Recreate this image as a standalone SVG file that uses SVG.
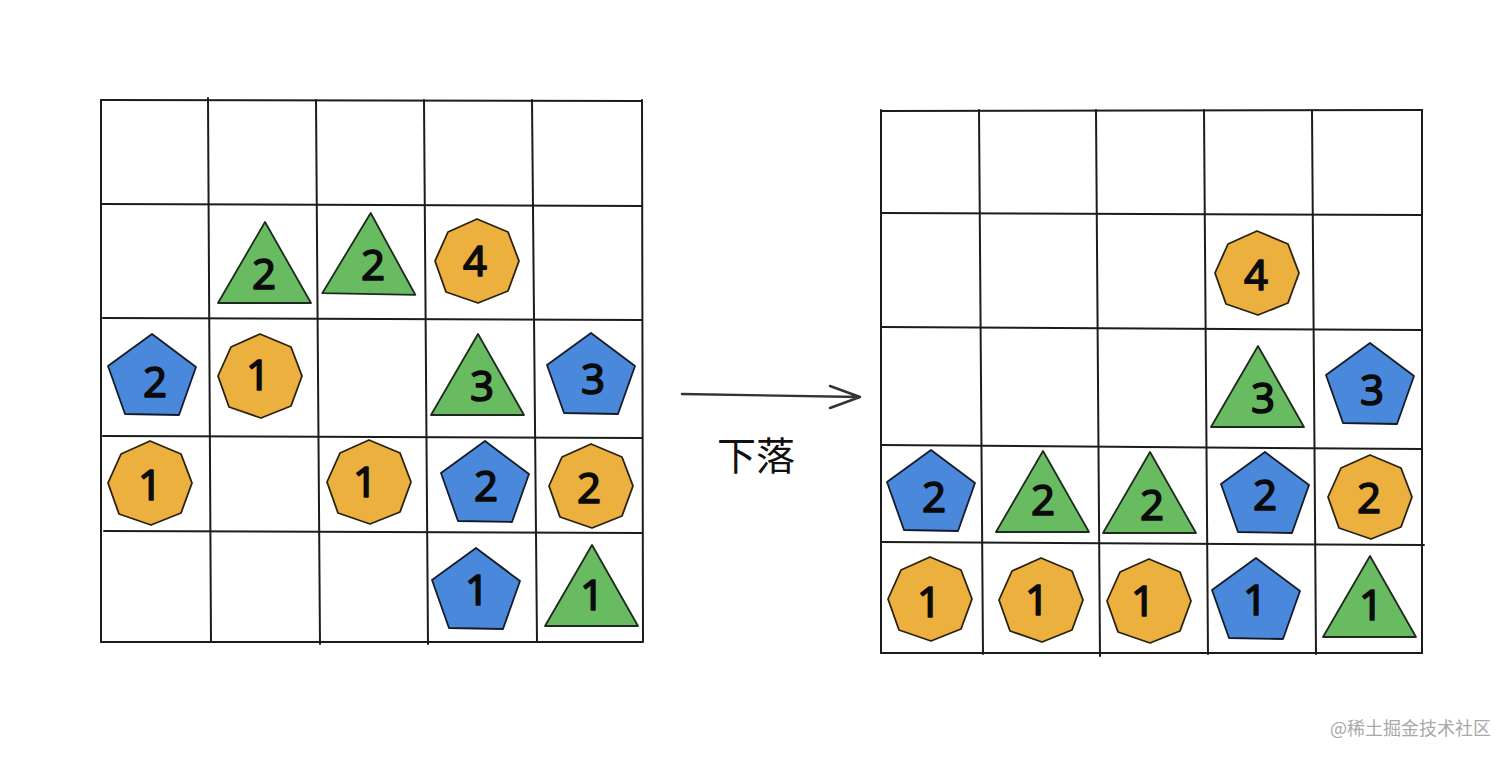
<svg xmlns="http://www.w3.org/2000/svg" width="1512" height="761" viewBox="0 0 1512 761">
<style>
.grid{fill:none;stroke:#1c1c1c;stroke-width:2;stroke-linecap:round}
.tri{fill:#69bb62;stroke:#1d2a1d;stroke-width:1.8;stroke-linejoin:round}
.pen{fill:#4a88dc;stroke:#141c2a;stroke-width:1.8;stroke-linejoin:round}
.non{fill:#ecb03e;stroke:#2a2210;stroke-width:1.8;stroke-linejoin:round}
.n{font-family:"Noto Sans","Liberation Sans",sans-serif;font-size:42px;font-weight:400;fill:#0b0b0b;text-anchor:middle;stroke:#0b0b0b;stroke-width:1.5;stroke-linejoin:round}
.lab{font-family:"Noto Sans CJK SC","Noto Sans",sans-serif;font-size:39px;fill:#111;text-anchor:middle}
.wm{font-family:"Noto Sans CJK SC","Noto Sans",sans-serif;font-size:18px;fill:#a8a8a8}
.arr{fill:none;stroke:#333;stroke-width:2.4;stroke-linecap:round;stroke-linejoin:round}
</style>
<defs>
<polygon id="t" points="0,-40 46,41 -47,41"/>
<polygon id="p" points="0,-42 44,-9 27,39 -27,38 -44,-10"/>
<polygon id="o" points="0,-42 31,-29 42,0 31,30 1,42 -31,31 -42,0 -29,-29"/>
</defs>
<rect width="1512" height="761" fill="#fff"/>
<g id="grid-left" class="grid">
<path d="M101,100 L642,101M101,204 L642,206M103,318 L642,320M103,436 L642,438M104,531 L642,533M101,642 L642,642"/>
<path d="M101,100 L101,642M208,98 L211,642M316,100 L320,644M424,100 L428,644M532,100 L537,642M642,100 L643,642"/>
</g>
<g id="grid-right" class="grid">
<path d="M881,111 L1422,110M881,213 L1422,215M881,327 L1422,330M881,445 L1422,449M881,542 L1424,545M881,653 L1422,653"/>
<path d="M881,110 L881,653M979,110 L983,654M1096,110 L1100,656M1204,110 L1208,654M1312,110 L1316,654M1422,110 L1422,653"/>
</g>
<g id="connectors"><path class="arr" d="M682,394 L860,397M830,386 L860,397 L830,408"/></g>
<g id="label"><text class="lab" x="756" y="470">下落</text></g>
<g id="l-tri-2a" transform="translate(265,262)"><use href="#t" class="tri"/><text class="n" x="-1" y="27">2</text></g>
<g id="l-tri-2b" transform="translate(370,253)"><use href="#t" class="tri" transform="rotate(1)"/><text class="n" x="3" y="27">2</text></g>
<g id="l-non-4" transform="translate(477,261)"><use href="#o" class="non"/><text class="n" x="-2" y="15">4</text></g>
<g id="l-pen-2" transform="translate(152,376)"><use href="#p" class="pen"/><text class="n" x="3" y="21">2</text></g>
<g id="l-non-1a" transform="translate(260,376)"><use href="#o" class="non"/><text class="n" x="-2" y="14">1</text></g>
<g id="l-tri-3" transform="translate(478,374)"><use href="#t" class="tri"/><text class="n" x="4" y="27">3</text></g>
<g id="l-pen-3" transform="translate(591,375)"><use href="#p" class="pen"/><text class="n" x="2" y="19">3</text></g>
<g id="l-non-1b" transform="translate(150,483)"><use href="#o" class="non"/><text class="n" y="17">1</text></g>
<g id="l-non-1c" transform="translate(369,482)"><use href="#o" class="non"/><text class="n" x="-4" y="15">1</text></g>
<g id="l-pen-2b" transform="translate(485,483)"><use href="#p" class="pen"/><text class="n" x="1" y="18">2</text></g>
<g id="l-non-2" transform="translate(591,486)"><use href="#o" class="non"/><text class="n" x="-2" y="17">2</text></g>
<g id="l-pen-1" transform="translate(476,590)"><use href="#p" class="pen"/><text class="n" x="1" y="15">1</text></g>
<g id="l-tri-1" transform="translate(592,585)"><use href="#t" class="tri"/><text class="n" y="25">1</text></g>
<g id="r-non-4" transform="translate(1257,273)"><use href="#o" class="non"/><text class="n" x="-1" y="17">4</text></g>
<g id="r-tri-3" transform="translate(1258,386)"><use href="#t" class="tri"/><text class="n" x="5" y="27">3</text></g>
<g id="r-pen-3" transform="translate(1370,385)"><use href="#p" class="pen"/><text class="n" x="2" y="20">3</text></g>
<g id="r-pen-2a" transform="translate(931,492)"><use href="#p" class="pen"/><text class="n" x="3" y="20">2</text></g>
<g id="r-tri-2a" transform="translate(1043,491)"><use href="#t" class="tri"/><text class="n" y="24">2</text></g>
<g id="r-tri-2b" transform="translate(1150,492)"><use href="#t" class="tri"/><text class="n" x="2" y="28">2</text></g>
<g id="r-pen-2b" transform="translate(1265,494)"><use href="#p" class="pen"/><text class="n" y="16">2</text></g>
<g id="r-non-2" transform="translate(1370,497)"><use href="#o" class="non"/><text class="n" x="-1" y="16">2</text></g>
<g id="r-non-1a" transform="translate(930,599)"><use href="#o" class="non"/><text class="n" x="-1" y="18">1</text></g>
<g id="r-non-1b" transform="translate(1041,600)"><use href="#o" class="non"/><text class="n" x="-4" y="15">1</text></g>
<g id="r-non-1c" transform="translate(1149,601)"><use href="#o" class="non"/><text class="n" x="-6" y="15">1</text></g>
<g id="r-pen-1" transform="translate(1256,600)"><use href="#p" class="pen"/><text class="n" x="-1" y="15">1</text></g>
<g id="r-tri-1" transform="translate(1370,596)"><use href="#t" class="tri"/><text class="n" x="1" y="24">1</text></g>
<g id="watermark"><text class="wm" x="1330" y="735">@稀土掘金技术社区</text></g>
</svg>
